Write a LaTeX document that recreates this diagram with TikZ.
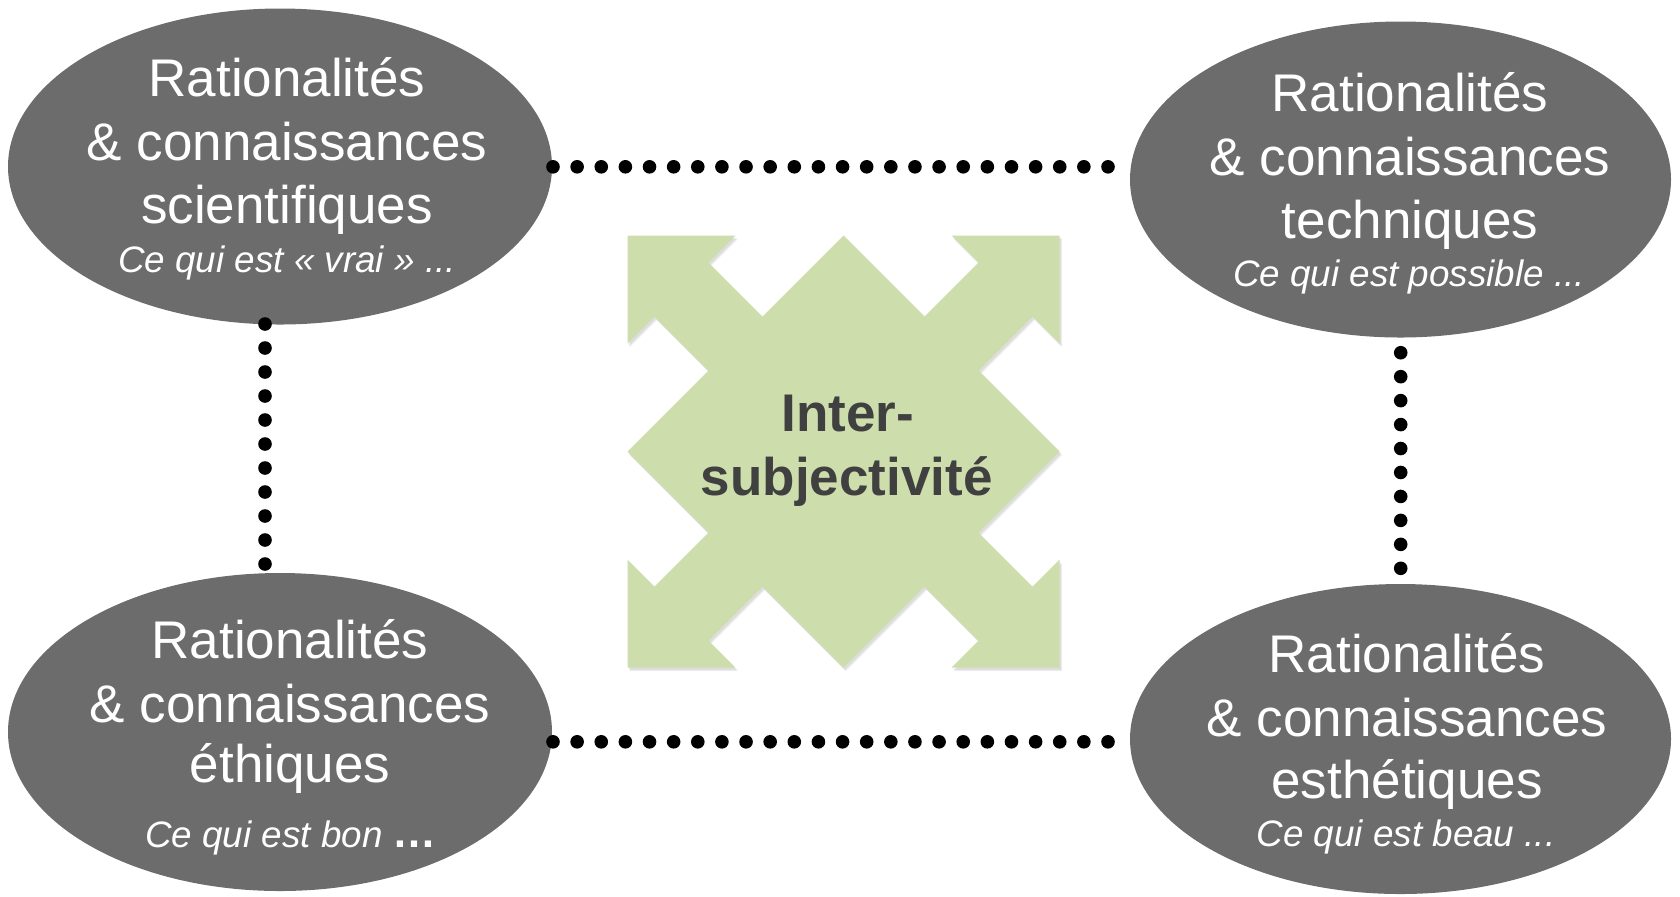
\documentclass[tikz,border=0pt]{standalone}
\usepackage{fontspec}
\setmainfont{Liberation Sans}
\usetikzlibrary{shapes.geometric,calc}
\definecolor{ovalgray}{RGB}{108,108,108}
\definecolor{arrowgreen}{RGB}{205,221,172}
\definecolor{centertext}{RGB}{64,64,64}
\newcommand\quadarrowpath{(0,-216) -- (-81,-135) -- (-135,-189) -- (-108,-216) -- (-216,-216) -- (-216,-108) -- (-189,-135) -- (-135,-81) -- (-216,0) -- (-135,81) -- (-189,135) -- (-216,108) -- (-216,216) -- (-108,216) -- (-135,189) -- (-81,135) -- (0,216) -- (81,135) -- (135,189) -- (108,216) -- (216,216) -- (216,108) -- (189,135) -- (135,81) -- (216,0) -- (135,-81) -- (189,-135) -- (216,-108) -- (216,-216) -- (108,-216) -- (135,-189) -- (81,-135) -- cycle}
\begin{document}
\begin{tikzpicture}[x=0.5pt,y=-0.5pt,
  oval/.style={ellipse,fill=ovalgray,draw=none,inner sep=0pt},
  mainline/.style={text=white,font=\fontsize{26.5}{32}\selectfont,anchor=base,inner sep=0pt},
  subline/.style={text=white,font=\fontsize{18.4}{22}\selectfont\itshape,anchor=base,inner sep=0pt},
  centerline/.style={text=centertext,font=\fontsize{26.5}{32}\selectfont\bfseries,anchor=base,inner sep=0pt},
  dotfill/.style={fill=black}]
\useasboundingbox (0,0) rectangle (1680,896);
% ovals
\node[oval,minimum width=272pt,minimum height=158pt] (tl) at (280,166.5) {};
\node[oval,minimum width=270.5pt,minimum height=158pt] (tr) at (1400.5,179.5) {};
\node[oval,minimum width=272pt,minimum height=159pt] (bl) at (280,732) {};
\node[oval,minimum width=270.5pt,minimum height=155pt] (br) at (1400.5,739) {};
% dotted connectors
\coordinate (ta) at (553,166.8); \coordinate (tb) at (1108,166.8);
\coordinate (ba) at (553,741.8); \coordinate (bb) at (1108,741.8);
\coordinate (la) at (265,324); \coordinate (lb) at (265,564);
\coordinate (ra) at (1400.7,352.7); \coordinate (rb) at (1400.7,568.3);
\foreach \i in {0,...,23} {\fill[dotfill] ($(ta)!\i/23!(tb)$) circle (3.4pt);}
\foreach \i in {0,...,23} {\fill[dotfill] ($(ba)!\i/23!(bb)$) circle (3.4pt);}
\foreach \i in {0,...,10} {\fill[dotfill] ($(la)!\i/10!(lb)$) circle (3.4pt);}
\foreach \i in {0,...,9} {\fill[dotfill] ($(ra)!\i/9!(rb)$) circle (3.4pt);}
% central quad arrow
\begin{scope}[shift={(846,455)}]
  \fill[black,opacity=0.06] \quadarrowpath;
\end{scope}
\begin{scope}[shift={(845,454)}]
  \fill[black,opacity=0.08] \quadarrowpath;
\end{scope}
\begin{scope}[shift={(843.5,451.5)}]
  \fill[arrowgreen] \quadarrowpath;
\end{scope}
\node[centerline] (c1) at (848,431.7) {Inter-};
\node[centerline] (c2) at (846.7,495) {subjectivité};
% texts
\node[mainline] (tla) at (287,96.5) {Rationalités};
\node[mainline] (tlb) at (287,160.7) {\& connaissances};
\node[mainline] (tlc) at (287,223) {scientifiques};
\node[subline] (tld) at (287,272) {Ce qui est « vrai » ...};
\node[mainline] (tra) at (1410,111.5) {Rationalités};
\node[mainline] (trb) at (1410,175.7) {\& connaissances};
\node[mainline] (trc) at (1410,238) {techniques};
\node[subline] (trd) at (1409,286) {Ce qui est possible ...};
\node[mainline] (bla) at (290,658) {Rationalités};
\node[mainline] (blb) at (290,722) {\& connaissances};
\node[mainline] (blc) at (290,782) {éthiques};
\node[subline] (bld) at (291,847) {Ce qui est bon {\upshape\bfseries\fontsize{22}{26}\selectfont …}};
\node[mainline] (bra) at (1407,672) {Rationalités};
\node[mainline] (brb) at (1407,736) {\& connaissances};
\node[mainline] (brc) at (1407,798.4) {esthétiques};
\node[subline] (brd) at (1406,846.5) {Ce qui est beau ...};
\end{tikzpicture}
\end{document}
